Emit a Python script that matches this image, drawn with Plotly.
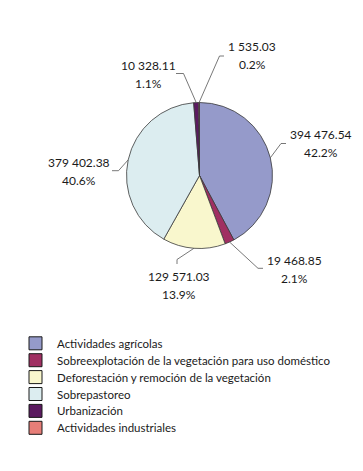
import math
import plotly.graph_objects as go

# ---- data ----
categories = [
    "Actividades agrícolas",
    "Sobreexplotación de la vegetación para uso doméstico",
    "Deforestación y remoción de la vegetación",
    "Sobrepastoreo",
    "Urbanización",
    "Actividades industriales",
]
values = [394476.54, 19468.85, 129571.03, 379402.38, 10328.11, 1535.03]

# ---- styles / layout ----
colors = ["#959ACA", "#A02F62", "#F9F7CD", "#DCEDF0", "#5B1A60", "#E77E78"]
W, H = 363, 471
CX, CY, R = 199.5, 175.5, 73
FONT = "Lato"

# label centres, leader elbows and stub ends (pixels, per slice)
label_pos = [(321, 144), (294, 269.5), (179, 285.5), (79, 171.5), (148, 74.5), (252, 56)]
elbows = [(281, 143.5), (258, 268.3), (177, 259.5), (118.5, 170.7), (183.5, 73.5), (219.5, 56)]
stub_ends = [(286, 143.5), (263, 268.3), (177, 264), (112, 170.7), (176, 73.5), (224, 56)]

LEG_X, LEG_Y0, LEG_DY, LEG_SQ = 29, 343.3, 16.9, 13


def px(x):
    return x / W


def py(y):
    return 1 - y / H


def fmt(v):
    s = f"{v:,.2f}"
    return s.replace(",", " ")


fig = go.Figure()
fig.add_trace(go.Pie(
    labels=categories,
    values=values,
    sort=False,
    direction="clockwise",
    rotation=0,
    marker=dict(colors=colors, line=dict(color="#3a3a3a", width=0.8)),
    textinfo="none",
    hoverinfo="label+value+percent",
    showlegend=False,
    domain=dict(x=[px(CX - R), px(CX + R)], y=[py(CY + R), py(CY - R)]),
))

total = sum(values)
shapes = []
annotations = []
cum = 0.0
for i, v in enumerate(values):
    mid = 2 * math.pi * (cum + v / 2) / total
    cum += v
    sx = CX + R * math.sin(mid)
    sy = CY - R * math.cos(mid)
    ex, ey = elbows[i]
    tx, ty = stub_ends[i]
    path = f"M {px(sx)} {py(sy)} L {px(ex)} {py(ey)} L {px(tx)} {py(ty)}"
    shapes.append(dict(type="path", xref="paper", yref="paper", path=path,
                       line=dict(color="#555555", width=0.8)))
    lx, ly = label_pos[i]
    pct = f"{100 * v / total:.1f}%"
    annotations.append(dict(x=px(lx), y=py(ly - 9), xref="paper", yref="paper",
                            text=fmt(v), showarrow=False, xanchor="center", yanchor="middle",
                            font=dict(family=FONT, size=12, color="#1a1a1a")))
    annotations.append(dict(x=px(lx), y=py(ly + 9), xref="paper", yref="paper",
                            text=pct, showarrow=False, xanchor="center", yanchor="middle",
                            font=dict(family=FONT, size=12, color="#1a1a1a")))

# manual legend
for i, (cat, col) in enumerate(zip(categories, colors)):
    cy = LEG_Y0 + i * LEG_DY
    shapes.append(dict(type="rect", xref="paper", yref="paper",
                       x0=px(LEG_X), x1=px(LEG_X + LEG_SQ),
                       y0=py(cy + LEG_SQ / 2), y1=py(cy - LEG_SQ / 2),
                       fillcolor=col, line=dict(color="#1a1a1a", width=1)))
    annotations.append(dict(x=px(55), y=py(cy), xref="paper", yref="paper",
                            text=cat, showarrow=False, xanchor="left", yanchor="middle",
                            font=dict(family=FONT, size=11.5, color="#1a1a1a")))

fig.update_layout(
    width=W, height=H,
    margin=dict(l=0, r=0, t=0, b=0),
    paper_bgcolor="white",
    plot_bgcolor="white",
    shapes=shapes,
    annotations=annotations,
)
fig.write_html("out.html", config={"displayModeBar": False},
               post_script="document.body.style.margin='0';")
